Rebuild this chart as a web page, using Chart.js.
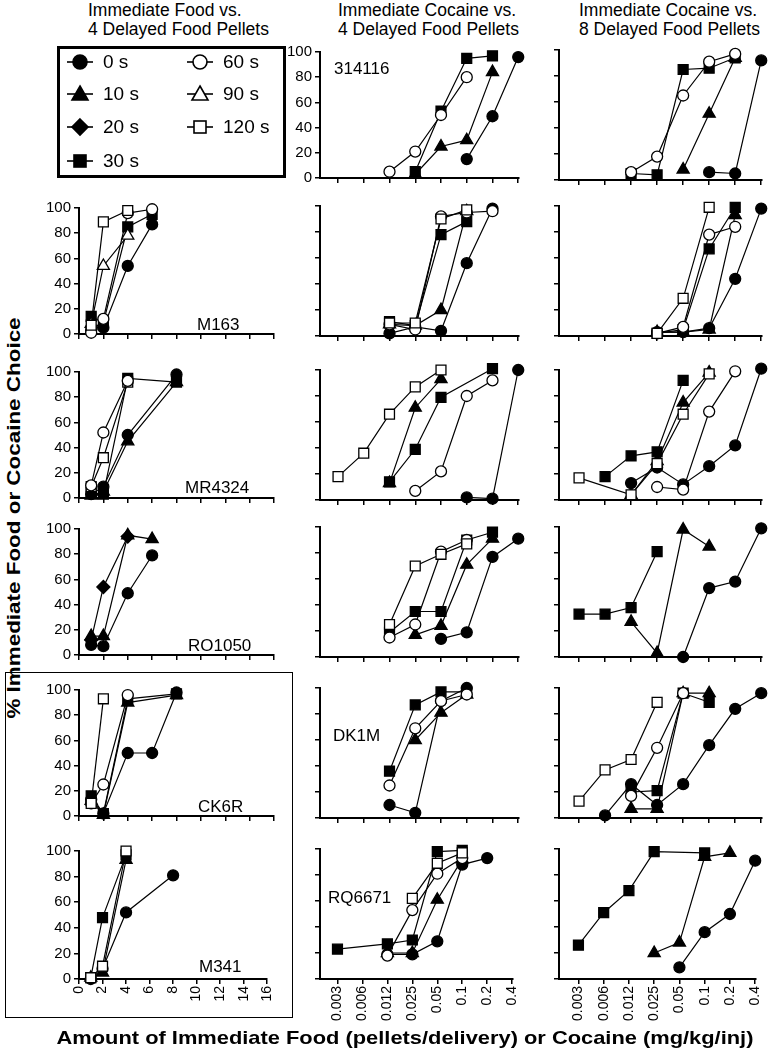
<!DOCTYPE html>
<html>
<head>
<meta charset="utf-8">
<script src="https://cdn.jsdelivr.net/npm/chart.js@4.4.1/dist/chart.umd.min.js"></script>
<style>
  body { margin: 0; background: #fff; font-family: "Liberation Sans", Arial, sans-serif; }
  #page { position: relative; width: 769px; height: 1050px; overflow: hidden; background: #fff; }
  .panel { position: absolute; }
  .txt { position: absolute; color: #000; white-space: nowrap; line-height: 1; }
  .head { font-size: 17.5px; line-height: 19px; }
  .tag { font-size: 17px; }
  #legend { position: absolute; left: 57px; top: 46px; width: 229px; height: 132px; border: 3px solid #000; box-sizing: border-box; }
  .leg { position: absolute; font-size: 19px; line-height: 1; }
  #box { position: absolute; left: 5px; top: 672px; width: 288px; height: 346px; border: 1px solid #000; box-sizing: border-box; }
</style>
</head>
<body>
<div id="page"></div>
<script>
// ---- data ----
const delays = ['0 s', '10 s', '20 s', '30 s', '60 s', '90 s', '120 s'];
const foodX = [1, 2, 4, 6, 8];
const foodTicks = [0, 2, 4, 6, 8, 10, 12, 14, 16];
const doseLabels = ['0.003', '0.006', '0.012', '0.025', '0.05', '0.1', '0.2', '0.4'];
const yTicks = [0, 20, 40, 60, 80, 100];

// food panels: values at foodX (null = not tested)
const foodM163 = [
  ['120 s', [7, 89, 98, null, null]],
  ['90 s', [8, 54, 78, null, null]],
  ['60 s', [1, 12, 96, 99, null]],
  ['30 s', [14, 9, 85, 95, null]],
  ['0 s', [3, 5, 54, 87, null]]
];
const foodMR4324 = [
  ['60 s', [10, 52, 93, null, null]],
  ['120 s', [9, 32, 92, null, null]],
  ['30 s', [4, 3, 95, null, 92]],
  ['10 s', [2, 5, 45, null, 92]],
  ['0 s', [3, 9, 50, null, 98]]
];
const foodRO1050 = [
  ['10 s', [15, 15, 95, 92, null]],
  ['20 s', [12, 54, 94, null, null]],
  ['0 s', [8, 7, 49, 79, null]]
];
const foodCK6R = [
  ['120 s', [10, 93, null, null, null]],
  ['60 s', [10, 25, 96, null, null]],
  ['10 s', [12, 1, 90, null, 96]],
  ['30 s', [16, 2, 93, null, 97]],
  ['0 s', [13, 2, 50, 50, 98]]
];
const foodM341 = [
  ['120 s', [1, 10, 100, null, null]],
  ['30 s', [1, 48, 97, null, null]],
  ['10 s', [1, 5, 93, null, null]],
  ['0 s', [0, 8, 52, null, 81]]
];

// cocaine panels: values at doseLabels (null = not tested)
const coc4_314116 = [
  ['60 s', [null, null, 5, 21, 50, 80, null, null]],
  ['30 s', [null, null, null, 5, 53, 95, 97, null]],
  ['10 s', [null, null, null, 3, 25, 30, 84, null]],
  ['0 s', [null, null, null, null, null, 15, 49, 96]]
];
const coc8_314116 = [
  ['60 s', [null, null, 6, 18, 65, 91, 97, null]],
  ['30 s', [null, null, 5, 4, 85, 86, 94, null]],
  ['10 s', [null, null, null, null, 8, 51, 94, null]],
  ['0 s', [null, null, null, null, null, 6, 5, 92]]
];
const coc4_M163 = [
  ['120 s', [null, null, 10, 10, 90, 97, null, null]],
  ['60 s', [null, null, 9, 5, 92, 95, 96, null]],
  ['30 s', [null, null, 11, 8, 78, 88, null, null]],
  ['10 s', [null, null, 9, 8, 20, 96, null, null]],
  ['0 s', [null, null, 2, 7, 4, 56, 98, null]]
];
const coc8_M163 = [
  ['120 s', [null, null, null, 2, 29, 99, null, null]],
  ['60 s', [null, null, null, 2, 7, 78, 84, null]],
  ['30 s', [null, null, null, 2, 5, 67, 99, null]],
  ['10 s', [null, null, null, 3, 3, 5, 93, null]],
  ['0 s', [null, null, null, 3, 3, 6, 44, 98]]
];
const coc4_MR4324 = [
  ['120 s', [18, 36, 66, 87, 100, null, null, null]],
  ['10 s', [null, null, 13, 71, 93, null, null, null]],
  ['30 s', [null, null, 14, 39, 79, null, 101, null]],
  ['60 s', [null, null, null, 7, 22, 80, 92, null]],
  ['0 s', [null, null, null, null, null, 2, 1, 100]]
];
const coc8_MR4324 = [
  ['120 s', [17, null, 4, 28, 66, 97, null, null]],
  ['30 s', [null, 18, 34, 37, 92, null, null, null]],
  ['10 s', [null, null, 4, 30, 75, 98, null, null]],
  ['60 s', [null, null, null, 10, 8, 68, 99, null]],
  ['0 s', [null, null, 13, 25, 12, 26, 42, 101]]
];
const coc4_RO1050 = [
  ['120 s', [null, null, 25, 70, 79, 87, null, null]],
  ['60 s', [null, null, 15, 25, 81, 90, null, null]],
  ['30 s', [null, null, 19, 35, 35, 90, 96, null]],
  ['10 s', [null, null, null, 17, 24, 71, 91, null]],
  ['0 s', [null, null, null, null, 14, 19, 77, 91]]
];
const coc8_RO1050 = [
  ['30 s', [33, 33, 38, 81, null, null, null, null]],
  ['10 s', [null, null, 27, 3, 98, 85, null, null]],
  ['0 s', [null, null, null, null, 0, 53, 58, 99]]
];
const coc4_DK1M = [
  ['60 s', [null, null, 25, 69, 90, 95, null, null]],
  ['30 s', [null, null, 36, 87, 97, 97, null, null]],
  ['10 s', [null, null, null, 60, 81, 95, null, null]],
  ['0 s', [null, null, 10, 4, 90, 100, null, null]]
];
const coc8_DK1M = [
  ['120 s', [13, 37, 45, 89, null, null, null, null]],
  ['60 s', [null, null, 17, 54, 96, null, null, null]],
  ['30 s', [null, null, 20, 21, 96, 89, null, null]],
  ['10 s', [null, null, 7, 7, 96, 96, null, null]],
  ['0 s', [null, 2, 26, 10, 26, 56, 84, 96]]
];
const coc4_RQ6671 = [
  ['120 s', [null, null, null, 62, 89, 97, null, null]],
  ['60 s', [null, null, 18, 53, 81, 93, null, null]],
  ['30 s', [23, null, 27, 30, 98, 99, null, null]],
  ['10 s', [null, null, 20, 20, 61, 92, null, null]],
  ['0 s', [null, null, 19, 19, 29, 88, 93, null]]
];
const coc8_RQ6671 = [
  ['30 s', [26, 51, 68, 98, null, 97, null, null]],
  ['10 s', [null, null, null, 20, 28, 94, 97, null]],
  ['0 s', [null, null, null, null, 9, 36, 50, 91]]
];

// ---- marker look per delay ----
const markStyle = {
  '0 s':   { shape: 'circle',   filled: true,  r: 5.5 },
  '10 s':  { shape: 'triangle', filled: true,  r: 7 },
  '20 s':  { shape: 'rectRot',  filled: true,  r: 6.5 },
  '30 s':  { shape: 'rect',     filled: true,  r: 7 },
  '60 s':  { shape: 'circle',   filled: false, r: 5.5 },
  '90 s':  { shape: 'triangle', filled: false, r: 7 },
  '120 s': { shape: 'rect',     filled: false, r: 7 }
};

const FONT = '"Liberation Sans", Arial, sans-serif';
const page = document.getElementById('page');

// layout of the grid of panels
const colGeo = [
  { left: 79, w: 195 },
  { left: 320, w: 199 },
  { left: 559, w: 203 }
];
const rowTop = [50, 206, 370, 527, 688, 849];
const plotH = 130;

function addText(txt, cls, left, top, extra) {
  let d = document.createElement('div');
  d.className = 'txt ' + cls;
  d.innerHTML = txt;
  d.style.left = left + 'px';
  d.style.top = top + 'px';
  if (extra) Object.assign(d.style, extra);
  page.appendChild(d);
  return d;
}

function makePanel(series, col, row, opts) {
  const food = col === 0;
  const g = colGeo[col];
  const padTop = 10, padRight = 12, yW = 40;
  const bottom = row === 5;
  const xH = bottom ? 52 : 10;
  const w = yW + g.w + padRight;
  const h = padTop + plotH + xH;

  let wrap = document.createElement('div');
  wrap.className = 'panel';
  wrap.style.left = (g.left - yW) + 'px';
  wrap.style.top = (rowTop[row] - padTop) + 'px';
  let canvas = document.createElement('canvas');
  canvas.width = w;
  canvas.height = h;
  wrap.appendChild(canvas);
  page.appendChild(wrap);

  const xs = food ? foodX : doseLabels.map((d, i) => i);
  const xTickVals = food ? foodTicks : doseLabels.map((d, i) => i);

  const datasets = series.map(function (s) {
    const st = markStyle[s[0]];
    return {
      label: s[0],
      data: s[1].map((y, i) => ({ x: xs[i], y: y })).filter(p => p.y !== null),
      showLine: true,
      borderColor: '#000',
      borderWidth: 1.2,
      pointStyle: st.shape,
      pointRadius: st.r,
      pointBorderWidth: 1.3,
      pointBorderColor: '#000',
      pointBackgroundColor: st.filled ? '#000' : '#fff',
      clip: false
    };
  });

  const axisGrid = { drawOnChartArea: false, drawTicks: true, tickLength: 5, color: '#000', lineWidth: 1.5 };
  const axisBorder = { display: true, color: '#000', width: 2 };

  new Chart(canvas, {
    type: 'scatter',
    data: { datasets: datasets },
    options: {
      responsive: false,
      animation: false,
      devicePixelRatio: 1,
      layout: { padding: { top: padTop, right: padRight, left: 0, bottom: 0 } },
      plugins: { legend: { display: false }, tooltip: { enabled: false } },
      scales: {
        x: {
          type: 'linear',
          min: food ? 0 : opts.xmin,
          max: food ? 16 : 7.03,
          afterFit: s => { s.height = xH; },
          afterBuildTicks: s => { s.ticks = xTickVals.map(v => ({ value: v })); },
          ticks: {
            display: bottom,
            autoSkip: false,
            minRotation: 90,
            maxRotation: 90,
            padding: 2,
            color: '#000',
            font: { family: FONT, size: 14 },
            callback: v => food ? String(v) : doseLabels[v]
          },
          grid: axisGrid,
          border: axisBorder
        },
        y: {
          min: 0,
          max: 100,
          afterFit: s => { s.width = yW; },
          afterBuildTicks: s => { s.ticks = yTicks.map(v => ({ value: v })); },
          ticks: {
            display: opts.showY,
            padding: 3,
            color: '#000',
            font: { family: FONT, size: 15 }
          },
          grid: axisGrid,
          border: axisBorder
        }
      }
    }
  });
}

// column 1: food
makePanel(foodM163, 0, 1, { showY: true });
makePanel(foodMR4324, 0, 2, { showY: true });
makePanel(foodRO1050, 0, 3, { showY: true });
makePanel(foodCK6R, 0, 4, { showY: true });
makePanel(foodM341, 0, 5, { showY: true });

// column 2: cocaine vs 4 pellets
makePanel(coc4_314116, 1, 0, { showY: true, xmin: -0.7 });
makePanel(coc4_M163, 1, 1, { showY: false, xmin: -0.7 });
makePanel(coc4_MR4324, 1, 2, { showY: false, xmin: -0.7 });
makePanel(coc4_RO1050, 1, 3, { showY: false, xmin: -0.7 });
makePanel(coc4_DK1M, 1, 4, { showY: false, xmin: -0.7 });
makePanel(coc4_RQ6671, 1, 5, { showY: false, xmin: -0.7 });

// column 3: cocaine vs 8 pellets
makePanel(coc8_314116, 2, 0, { showY: false, xmin: -0.77 });
makePanel(coc8_M163, 2, 1, { showY: false, xmin: -0.77 });
makePanel(coc8_MR4324, 2, 2, { showY: false, xmin: -0.77 });
makePanel(coc8_RO1050, 2, 3, { showY: false, xmin: -0.77 });
makePanel(coc8_DK1M, 2, 4, { showY: false, xmin: -0.77 });
makePanel(coc8_RQ6671, 2, 5, { showY: false, xmin: -0.77 });

// column headings
addText('Immediate Food vs.<br>4 Delayed Food Pellets', 'head', 88, 1);
addText('Immediate Cocaine vs.<br>4 Delayed Food Pellets', 'head', 338, 1);
addText('Immediate Cocaine vs.<br>8 Delayed Food Pellets', 'head', 579, 1);

// subject tags
addText('M163', 'tag', 197, 316);
addText('MR4324', 'tag', 185, 479);
addText('RO1050', 'tag', 188, 637);
addText('CK6R', 'tag', 198, 798);
addText('M341', 'tag', 199, 958);
addText('314116', 'tag', 334, 60);
addText('DK1M', 'tag', 333, 727);
addText('RQ6671', 'tag', 328, 889);

// axis titles
addText('% Immediate Food or Cocaine Choice', '', 13, 518,
  { fontSize: '19px', fontWeight: 'bold', transform: 'translate(-50%,-50%) rotate(-90deg) scaleX(1.18)' });
addText('Amount of Immediate Food (pellets/delivery) or Cocaine (mg/kg/inj)', '', 405, 1037,
  { fontSize: '19px', fontWeight: 'bold', transform: 'translate(-50%,-50%) scaleX(1.15)' });

// box around the food panels of the last two rows
let box = document.createElement('div');
box.id = 'box';
page.appendChild(box);

// legend
let legend = document.createElement('div');
legend.id = 'legend';
page.appendChild(legend);

function markerSvg(delay) {
  const st = markStyle[delay];
  const fill = st.filled ? '#000' : '#fff';
  let shape = '';
  if (st.shape === 'circle') shape = '<circle cx="14" cy="10" r="7" fill="' + fill + '" stroke="#000" stroke-width="1.6"/>';
  if (st.shape === 'triangle') shape = '<polygon points="14,2 22,16 6,16" fill="' + fill + '" stroke="#000" stroke-width="1.6"/>';
  if (st.shape === 'rectRot') shape = '<polygon points="14,2 22,10 14,18 6,10" fill="' + fill + '" stroke="#000" stroke-width="1.6"/>';
  if (st.shape === 'rect') shape = '<rect x="8" y="4" width="12" height="12" fill="' + fill + '" stroke="#000" stroke-width="1.6"/>';
  return '<svg width="28" height="20" style="position:absolute;left:0;top:0">' +
    '<line x1="1" y1="10" x2="27" y2="10" stroke="#000" stroke-width="1.6"/>' + shape + '</svg>';
}

const legendPos = [
  ['0 s', 80, 62], ['10 s', 80, 94], ['20 s', 80, 127], ['30 s', 80, 161],
  ['60 s', 200, 62], ['90 s', 200, 94], ['120 s', 200, 127]
];
legendPos.forEach(function (e) {
  let m = document.createElement('div');
  m.style.position = 'absolute';
  m.style.left = (e[1] - 14 - 57 - 3) + 'px';
  m.style.top = (e[2] - 10 - 46 - 3) + 'px';
  m.innerHTML = markerSvg(e[0]);
  legend.appendChild(m);
  let t = document.createElement('div');
  t.className = 'leg';
  t.textContent = e[0];
  t.style.left = (e[1] + 23 - 57 - 3) + 'px';
  t.style.top = (e[2] - 10 - 46 - 3) + 'px';
  legend.appendChild(t);
});
</script>
</body>
</html>
